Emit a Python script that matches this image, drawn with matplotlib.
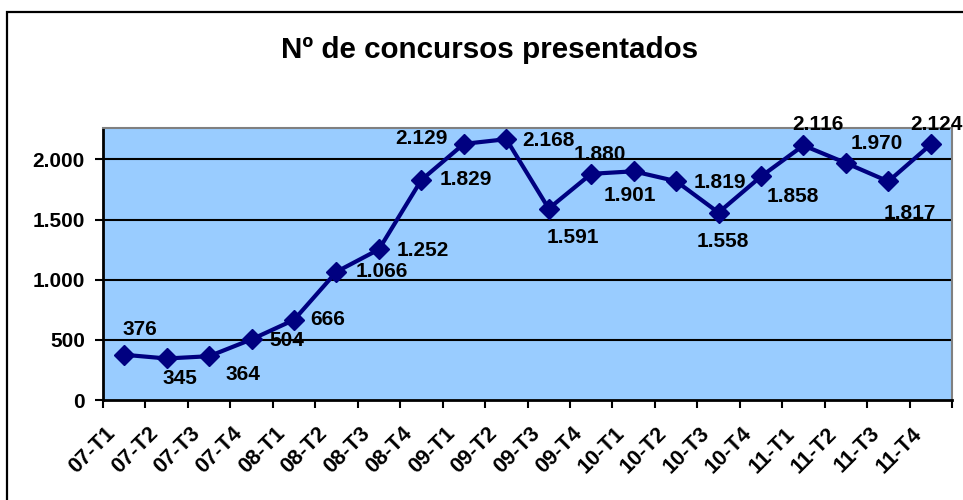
import matplotlib
matplotlib.use('Agg')
import matplotlib.pyplot as plt
from matplotlib.patches import Rectangle
from matplotlib.transforms import ScaledTranslation

plt.rcParams['font.family'] = ['Liberation Sans', 'DejaVu Sans']
plt.rcParams['font.weight'] = 'bold'

# data
periods = ['07-T1', '07-T2', '07-T3', '07-T4', '08-T1', '08-T2', '08-T3', '08-T4',
           '09-T1', '09-T2', '09-T3', '09-T4', '10-T1', '10-T2', '10-T3', '10-T4',
           '11-T1', '11-T2', '11-T3', '11-T4']
concursos = [376, 345, 364, 504, 666, 1066, 1252, 1829, 2129, 2168,
             1591, 1880, 1901, 1819, 1558, 1858, 2116, 1970, 1817, 2124]
y_ticks = [0, 500, 1000, 1500, 2000]

# label placement (pixel offsets from each point)
lab_off = [(16, 25), (13, -20), (34, -18), (35, -1), (34, 0), (45, 0), (44, -1),
           (44, 0), (-42, 5), (42, -1), (24, -29), (9, 19), (-4, -24), (44, -1),
           (4, -29), (32, -20), (15, 21), (31, 20), (21, -32), (6, 20)]


def fmt(v):
    return f'{v:,}'.replace(',', '.')


fig = plt.figure(figsize=(9.63, 5.0), dpi=100)
fig.patches.append(Rectangle((7 / 963, -0.1), 1.2, 0.976 + 0.1, transform=fig.transFigure,
                             fill=False, edgecolor='black', linewidth=1.6))
fig.text(490 / 963, 0.9, 'Nº de concursos presentados', ha='center', va='center',
         fontsize=21.3, fontweight='bold')

ax = fig.add_axes([103 / 963, 0.2, (952 - 103) / 963, (400 - 128) / 500])
ax.set_facecolor('#99CCFF')
x = list(range(len(periods)))
ax.plot(x, concursos, color='#000080', linewidth=3, marker='D', markersize=10.5,
        zorder=3, clip_on=False)

for xi, v, off in zip(x, concursos, lab_off):
    ax.annotate(fmt(v), (xi, v), xytext=off, textcoords='offset pixels',
                ha='center', va='center', fontsize=15, fontweight='bold',
                annotation_clip=False, zorder=4)

ax.set_xlim(-0.5, len(periods) - 0.5)
ax.set_ylim(0, 2261)
ax.set_yticks(y_ticks)
ax.set_yticklabels([fmt(t) for t in y_ticks], fontsize=15, fontweight='bold')
for t in y_ticks[1:]:
    ax.axhline(t, color='black', linewidth=1.5, zorder=1)

ax.set_xticks([i - 0.5 for i in range(len(periods) + 1)])
ax.set_xticklabels([])
ax.set_xticks(x, minor=True)
ax.set_xticklabels(periods, minor=True, rotation=45, ha='right', va='center',
                   rotation_mode='anchor', fontsize=15.5, fontweight='bold')
ax.tick_params(axis='x', which='minor', length=0, pad=22)
ax.tick_params(axis='x', which='major', length=6, width=1.5, direction='out')
ax.tick_params(axis='y', length=6, width=1.5, direction='out', pad=7)
shift = ScaledTranslation(-12 / 100, 0, fig.dpi_scale_trans)
for lab in ax.get_xticklabels(minor=True):
    lab.set_transform(lab.get_transform() + shift)

for s in ['left', 'bottom']:
    ax.spines[s].set_color('black')
    ax.spines[s].set_linewidth(2)
for s in ['top', 'right']:
    ax.spines[s].set_color('#808080')
    ax.spines[s].set_linewidth(1.5)

fig.savefig('out.png', dpi=100)
